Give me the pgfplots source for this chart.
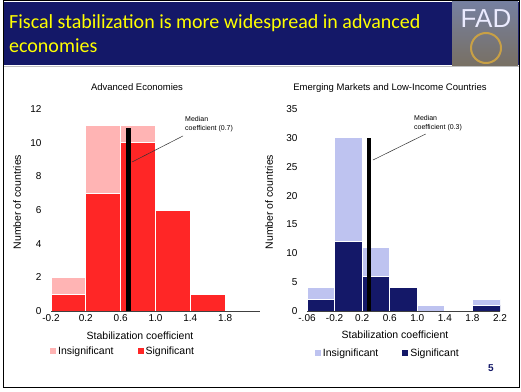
\documentclass[border=0pt]{standalone}
\usepackage{fontspec}
\setmainfont{Liberation Sans}
\newfontfamily\titlefont{Carlito}
\usepackage{pgfplots}
\pgfplotsset{compat=1.18}
\definecolor{navy}{RGB}{20,24,104}
\definecolor{pinkI}{RGB}{255,180,180}
\definecolor{redS}{RGB}{255,38,38}
\definecolor{lavI}{RGB}{190,195,240}
\definecolor{navyS}{RGB}{20,24,104}
\definecolor{titleY}{RGB}{255,255,0}
\definecolor{logoTop}{RGB}{118,128,160}
\definecolor{logoBot}{RGB}{120,112,100}
\definecolor{logoGold}{RGB}{200,160,70}
\pgfplotsset{
  histo/.style={
    scale only axis,
    axis on top,
    axis x line*=bottom,
    axis y line*=left,
    y axis line style={draw=none},
    x axis line style={-, draw=black!75, line width=0.7bp},
    xtick style={draw=none},
    ytick style={draw=none},
    ymin=0,
    bar width=0.4,
    ticklabel style={font=\fontsize{10bp}{12bp}\selectfont},
    yticklabel style={xshift=-6bp},
    /pgf/number format/assume math mode=true,
    legend columns=2,
    legend style={draw=none, fill=none, inner sep=0pt,
      font=\fontsize{10.5bp}{12bp}\selectfont,
      /tikz/every even column/.append style={column sep=22bp}},
    legend image code/.code={\path[#1,draw=none] (0bp,-3bp) rectangle (6bp,3bp);},
  },
  barS/.style={ybar, bar shift=0pt, draw=white, line width=0.9bp},
}
\begin{document}
\begin{tikzpicture}[x=1bp,y=1bp]
\useasboundingbox (0,0) rectangle (521,391);
\fill[white] (0,0) rectangle (521,391);
% title bar
\fill[navy] (3,326) rectangle (519,389);
\shade[top color=logoTop, bottom color=logoBot] (452,326) rectangle (518,389);
\draw[logoGold, line width=2bp] (486,343) circle (15);
\node[font=\fontsize{26bp}{28bp}\selectfont, text=white!92!blue, inner sep=0] at (486,372) {FAD};
\draw[black!25, line width=0.8bp] (3,325) -- (519,325);
\node[anchor=base west, font=\titlefont\fontsize{20bp}{24bp}\selectfont, text=titleY, inner sep=0] at (9,363) {Fiscal stabilization is more widespread in advanced};
\node[anchor=base west, font=\titlefont\fontsize{20bp}{24bp}\selectfont, text=titleY, inner sep=0] at (9,339) {economies};
% slide frame
\draw[black, line width=1bp] (3,4) rectangle (519,390);

% ---------- Advanced economies ----------
\begin{axis}[histo,
  at={(51bp,80bp)}, anchor=south west,
  width=209bp, height=202bp,
  xmin=-0.2, xmax=2.2, ymax=12,
  xtick={-0.2,0.2,0.6,1.0,1.4,1.8},
  xticklabels={-0.2,0.2,0.6,1.0,1.4,1.8},
  ytick={0,2,4,6,8,10,12},
  legend style={at={(-0.005,-0.198)}, anchor=west},
]
% totals (insignificant on top of significant)
\addplot[barS, fill=pinkI] coordinates {(0,2) (0.4,11) (0.8,11) (1.2,6) (1.6,1)};
\addlegendentry{Insignificant}
\addplot[barS, fill=redS] coordinates {(0,1) (0.4,7) (0.8,10) (1.2,6) (1.6,1)};
\addlegendentry{Significant}
\addplot[black, line width=4.6bp, forget plot] coordinates {(0.69,0) (0.69,10.9)};
\draw[black!80, line width=0.5bp] (axis cs:1.316,10.40) -- (axis cs:0.73,8.85);
\node[anchor=north west, align=left, font=\fontsize{7bp}{9bp}\selectfont, inner sep=0] at (axis cs:1.339,11.58) {Median\\coefficient (0.7)};
\end{axis}

% ---------- Emerging markets ----------
\begin{axis}[histo,
  at={(307bp,80bp)}, anchor=south west,
  width=193bp, height=202bp,
  xmin=-0.6, xmax=2.2, ymax=35,
  xtick={-0.6,-0.2,0.2,0.6,1.0,1.4,1.8,2.2},
  xticklabels={-.06,-0.2,0.2,0.6,1.0,1.4,1.8,2.2},
  ytick={0,5,10,15,20,25,30,35},
  legend style={at={(0.04,-0.208)}, anchor=west},
]
\addplot[barS, fill=lavI] coordinates {(-0.4,4) (0,30) (0.4,11) (0.8,4) (1.2,1) (2.0,2)};
\addlegendentry{Insignificant}
\addplot[barS, fill=navyS] coordinates {(-0.4,2) (0,12) (0.4,6) (0.8,4) (2.0,1)};
\addlegendentry{Significant}
\addplot[black, line width=4.3bp, forget plot] coordinates {(0.3,0) (0.3,30)};
\draw[black!80, line width=0.5bp] (axis cs:1.122,30.67) -- (axis cs:0.357,26.16);
\node[anchor=north west, align=left, font=\fontsize{7bp}{9bp}\selectfont, inner sep=0] at (axis cs:0.952,33.96) {Median\\coefficient (0.3)};
\end{axis}

% chart titles and axis labels
\node[font=\fontsize{9.5bp}{11bp}\selectfont] at (137,304) {Advanced Economies};
\node[font=\fontsize{9.5bp}{11bp}\selectfont] at (390,303) {Emerging Markets and Low-Income Countries};
\node[font=\fontsize{10.5bp}{12bp}\selectfont, rotate=90] at (17,189) {Number of countries};
\node[font=\fontsize{10.5bp}{12bp}\selectfont, rotate=90] at (269,189) {Number of countries};
\node[font=\fontsize{10.5bp}{12bp}\selectfont] at (140,55) {Stabilization coefficient};
\node[font=\fontsize{10.5bp}{12bp}\selectfont] at (395,56) {Stabilization coefficient};
% page number
\node[font=\bfseries\fontsize{10bp}{12bp}\selectfont, text=navy] at (491,23) {5};
\end{tikzpicture}
\end{document}
